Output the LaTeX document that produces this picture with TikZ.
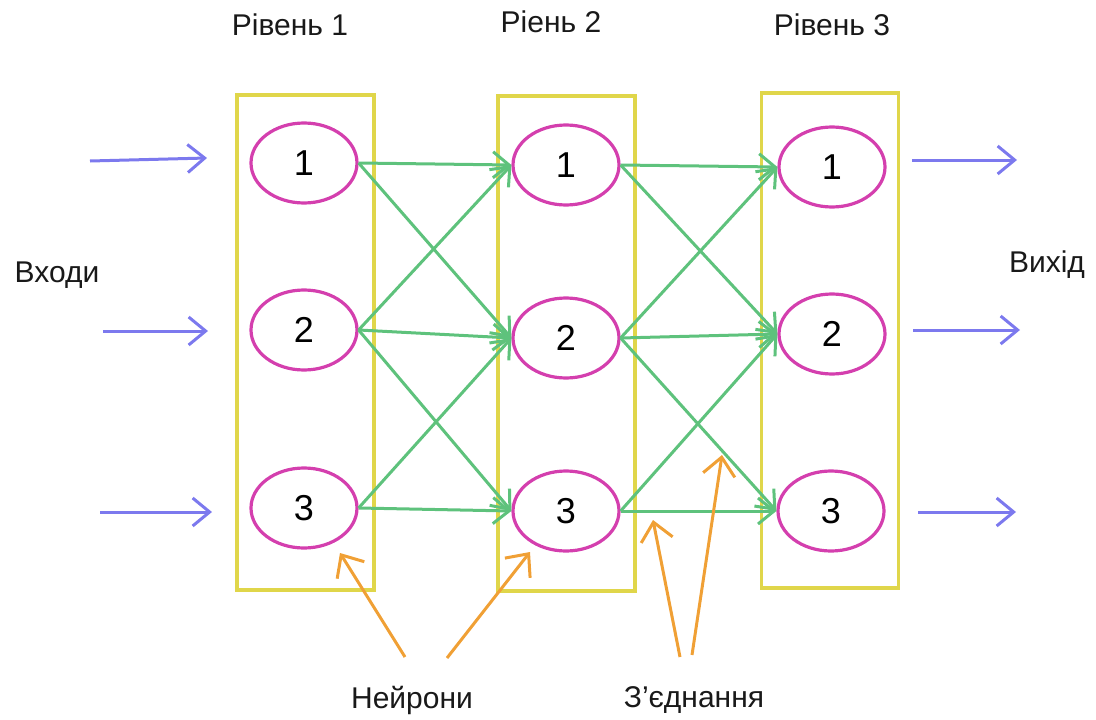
\documentclass[tikz,border=0pt]{standalone}
\usepackage{fontspec}
\setmainfont{Liberation Sans}
\usetikzlibrary{arrows.meta,shapes.geometric}
\definecolor{yel}{HTML}{E0D64A}
\definecolor{mag}{HTML}{D43FAE}
\definecolor{grn}{HTML}{5EC27C}
\definecolor{blu}{HTML}{7C79EE}
\definecolor{org}{HTML}{F0A035}
\tikzset{
  layerbox/.style={draw=yel,line width=3.2pt,minimum width=137pt,minimum height=495pt,inner sep=0pt},
  neuron/.style={ellipse,draw=mag,line width=3.2pt,minimum width=106pt,minimum height=80pt,inner sep=0pt,font=\fontsize{36}{40}\selectfont},
  lbl/.style={font=\fontsize{30}{34}\selectfont,text=black!90,inner sep=0pt},
  conn/.style={draw=grn,line width=3pt,-{Straight Barb[length=16pt,width=26pt,line width=3pt]}},
  io/.style={draw=blu,line width=3pt,-{Straight Barb[length=17pt,width=28pt,line width=3pt]}},
  pointer/.style={draw=org,line width=3pt,-{Straight Barb[length=18pt,width=32pt,line width=3pt]}}
}
\begin{document}
\begin{tikzpicture}[x=1pt,y=-1pt]
\useasboundingbox (0,0) rectangle (1096,720);
% layer boxes
\node[layerbox] (L1) at (305.5,342.5) {};
\node[layerbox] (L2) at (566.5,343.5) {};
\node[layerbox] (L3) at (830,340.5) {};
% neurons
\node[neuron] (a1) at (304,163) {1};
\node[neuron] (a2) at (304,330) {2};
\node[neuron] (a3) at (304,508) {3};
\node[neuron] (b1) at (566,165) {1};
\node[neuron] (b2) at (566,338) {2};
\node[neuron] (b3) at (566,511) {3};
\node[neuron] (c1) at (832,167) {1};
\node[neuron] (c2) at (832,334) {2};
\node[neuron] (c3) at (831,511) {3};
% labels
\node[lbl] (t1) at (290,25) {Рівень 1};
\node[lbl] (t2) at (551,22) {Ріень 2};
\node[lbl] (t3) at (832,25) {Рівень 3};
\node[lbl] (inp) at (57,275) {Входи};
\node[lbl] (out) at (1047,265) {Вихід};
\node[lbl] (neu) at (412,700) {Нейрони};
\node[lbl] (con) at (694,700) {З’єднання};
% inputs / outputs
\coordinate (i1) at (90,161);
\coordinate (i2) at (103,331);
\coordinate (i3) at (100,512);
\coordinate (o1) at (1017,160);
\coordinate (o2) at (1020,330);
\coordinate (o3) at (1016,512);
\coordinate (ie1) at (207,158);
\coordinate (ie2) at (208,331);
\coordinate (ie3) at (212,512);
\coordinate (os1) at (912,160);
\coordinate (os2) at (913,330);
\coordinate (os3) at (918,512);
\draw[io] (i1) -- (ie1);
\draw[io] (i2) -- (ie2);
\draw[io] (i3) -- (ie3);
\draw[io] (os1) -- (o1);
\draw[io] (os2) -- (o2);
\draw[io] (os3) -- (o3);
% connections layer 1 -> 2
\draw[conn] (a1.east) -- (b1.west);
\draw[conn] (a1.east) -- (b2.west);
\draw[conn] (a2.east) -- (b1.west);
\draw[conn] (a2.east) -- (b2.west);
\draw[conn] (a2.east) -- (b3.west);
\draw[conn] (a3.east) -- (b2.west);
\draw[conn] (a3.east) -- (b3.west);
% connections layer 2 -> 3
\draw[conn] (b1.east) -- (c1.west);
\draw[conn] (b1.east) -- (c2.west);
\draw[conn] (b2.east) -- (c1.west);
\draw[conn] (b2.east) -- (c2.west);
\draw[conn] (b2.east) -- (c3.west);
\draw[conn] (b3.east) -- (c2.west);
\draw[conn] (b3.east) -- (c3.west);
% pointers
\coordinate (n1s) at (405,657);
\coordinate (n1e) at (340,553);
\coordinate (n2s) at (447,658);
\coordinate (n2e) at (530,552);
\coordinate (c1s) at (680,657);
\coordinate (c1e) at (653,520);
\coordinate (c2s) at (692,655);
\coordinate (c2e) at (722,455);
\draw[pointer] (n1s) -- (n1e);
\draw[pointer] (n2s) -- (n2e);
\draw[pointer] (c1s) -- (c1e);
\draw[pointer] (c2s) -- (c2e);
\end{tikzpicture}
\end{document}
